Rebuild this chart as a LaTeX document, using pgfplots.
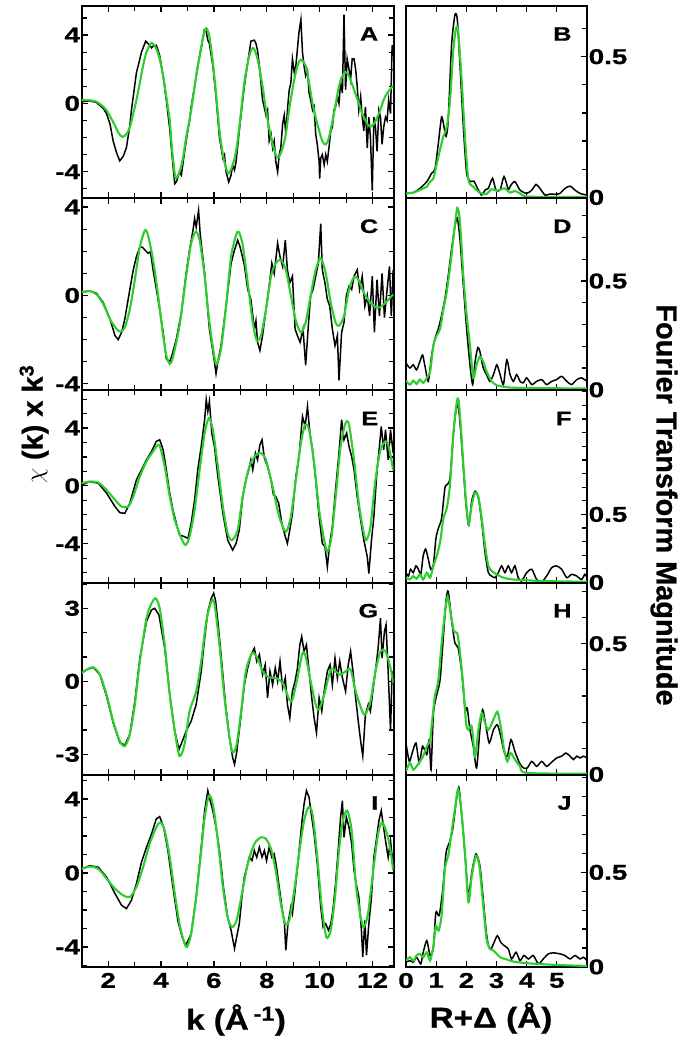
\documentclass[border=0pt]{standalone}
\usepackage{fontspec}
\setmainfont{Liberation Sans}
\newfontfamily\widefont[FakeStretch=1.3, FakeBold=0.8]{Liberation Sans}
\newfontfamily\labwide[FakeStretch=1.15, FakeBold=0.8]{Liberation Sans}
\newfontfamily\labplain[FakeBold=0.8]{Liberation Sans}
\usepackage{pgfplots}
\pgfplotsset{compat=1.18}

\definecolor{fitgreen}{RGB}{45,205,45}
\newcommand\tickfont{\widefont\fontsize{21.5}{21.5}\selectfont\bfseries}
\newcommand\letfont{\widefont\fontsize{19.5}{19.5}\selectfont\bfseries}
\newcommand\labfont{\labplain\fontsize{29}{29}\selectfont\bfseries}
\newcommand\blabfont{\labwide\fontsize{29}{29}\selectfont\bfseries}

\pgfplotsset{
  panel/.style={scale only axis, axis line style={line width=2bp},
    every tick/.style={black, line width=1.2bp},
    major tick length=6bp, minor tick length=5bp, tick align=inside,
    ticklabel style={font=\tickfont, inner sep=1.5bp},
    xticklabel style={yshift=-4bp},
    height=192.25bp, anchor=north west},
  kpanel/.style={panel, width=312bp, xmin=1, xmax=12.8,
    xtick={2,4,...,12}, minor xtick={1,3,...,13}, xticklabels={},
    ytick={-4,0,4}, yticklabels={-4,0,4}},
  rpanel/.style={panel, width=181bp, xmin=0, xmax=6,
    xtick={0,1,...,5}, xticklabels={},
    ytick={0,0.5}, yticklabels={0,0.5},
    minor ytick={0.1,0.2,0.3,0.4,0.6,0.7,0.8,0.9,1.0,1.1,1.2,1.3,1.4},
    ytick pos=right, yticklabel pos=right},
  dat/.style={black, line width=1.5bp},
  fit/.style={fitgreen, line width=2.1bp, smooth, tension=0.45}
}
\tikzset{letter/.style={anchor=east, font=\letfont, xshift=-12bp, yshift=-28bp}}

\begin{document}
\begin{tikzpicture}
\useasboundingbox (0,0) rectangle (685bp,1045bp);

% ---------- A ----------
\begin{axis}[kpanel, at={(81.7bp,1039bp)}, ymin=-5.55, ymax=5.7, minor ytick={-5,...,5}]
\addplot[dat] coordinates {(1.00,0.1) (1.31,0.15) (1.56,0.05) (1.82,-0.3) (1.94,-0.6) (2.07,-1.2) (2.19,-2.2) (2.32,-2.9) (2.44,-3.36) (2.57,-3.1) (2.69,-2.6) (2.82,-1.3) (2.88,-0.4) (2.95,0.4) (3.07,1.8) (3.20,2.6) (3.26,3.0) (3.42,3.64) (3.57,3.4) (3.64,3.25) (3.70,3.35) (3.82,3.4) (3.89,3.1) (3.95,2.8) (4.08,1.6) (4.20,0.2) (4.33,-1.5) (4.39,-2.6) (4.45,-3.6) (4.52,-4.7) (4.58,-4.6) (4.70,-4.0) (4.77,-4.2) (4.83,-3.5) (4.95,-2.2) (5.08,-1.0) (5.14,-0.2) (5.27,1.0) (5.39,2.2) (5.52,3.2) (5.58,3.8) (5.64,4.3) (5.71,4.2) (5.77,3.7) (5.83,3.5) (5.96,2.2) (6.08,0.4) (6.21,-2.0) (6.34,-3.2) (6.40,-3.0) (6.46,-4.0) (6.56,-4.6) (6.65,-4.2) (6.71,-3.6) (6.78,-3.9) (6.84,-3.4) (6.96,-1.6) (7.09,0.2) (7.15,1.0) (7.28,2.4) (7.40,3.64) (7.53,3.7) (7.59,3.5) (7.65,3.1) (7.72,2.2) (7.84,0.2) (7.90,-0.2) (7.97,-0.7) (8.03,-0.4) (8.09,-2.2) (8.16,-1.8) (8.22,-2.6) (8.28,-2.2) (8.34,-3.4) (8.41,-4.0) (8.47,-3.0) (8.53,-2.6) (8.60,-1.2) (8.66,-0.7) (8.72,-1.8) (8.79,-0.2) (8.85,0.8) (8.91,1.2) (8.97,2.6) (9.04,1.8) (9.10,2.2) (9.16,3.2) (9.22,4.2) (9.29,4.9) (9.35,3.0) (9.41,2.2) (9.47,1.6) (9.54,1.9) (9.60,0.6) (9.66,0.2) (9.73,-0.4) (9.79,-0.2) (9.85,-1.8) (9.91,-2.4) (9.98,-3.4) (10.00,-4.4) (10.04,-3.2) (10.10,-3.0) (10.17,-3.6) (10.23,-3.0) (10.29,-3.4) (10.35,-2.6) (10.42,-1.6) (10.48,-1.4) (10.54,-0.4) (10.60,-0.2) (10.67,0.4) (10.73,0.0) (10.79,1.2) (10.86,0.6) (10.92,5.2) (10.98,0.8) (11.04,2.6) (11.11,2.0) (11.17,1.4) (11.23,2.6) (11.30,2.6) (11.36,2.0) (11.42,1.0) (11.48,-0.4) (11.55,0.4) (11.61,-0.8) (11.67,-1.6) (11.73,-0.2) (11.80,-2.6) (11.86,-0.8) (11.92,-2.0) (11.99,-5.1) (12.05,-0.8) (12.11,-1.4) (12.17,-2.8) (12.24,-0.4) (12.30,-0.8) (12.36,-2.4) (12.42,-1.4) (12.49,-0.8) (12.55,-1.0) (12.61,0.2) (12.68,-0.6) (12.74,3.4) (12.78,2.8)};
\addplot[fit] coordinates {(1.00,0.20) (1.31,0.18) (1.56,0.1) (1.82,-0.2) (1.94,-0.4) (2.07,-0.75) (2.26,-1.3) (2.40,-1.75) (2.54,-1.96) (2.69,-1.8) (2.82,-1.4) (2.95,-0.6) (3.07,0.2) (3.20,1.2) (3.32,2.2) (3.45,3.0) (3.64,3.54) (3.82,3.2) (3.95,2.6) (4.08,1.6) (4.20,0.4) (4.33,-1.0) (4.39,-2.2) (4.45,-3.2) (4.55,-4.36) (4.70,-4.0) (4.83,-3.2) (4.95,-2.0) (5.14,-0.4) (5.33,1.6) (5.46,2.8) (5.58,3.8) (5.71,4.4) (5.83,3.9) (5.96,2.4) (6.08,0.6) (6.21,-1.6) (6.34,-3.0) (6.46,-3.8) (6.56,-4.1) (6.71,-3.6) (6.84,-2.8) (6.96,-1.4) (7.15,1.2) (7.34,2.8) (7.49,3.24) (7.65,2.6) (7.84,1.0) (7.97,-0.4) (8.16,-2.0) (8.34,-3.0) (8.45,-3.16) (8.60,-2.6) (8.72,-1.8) (8.85,-0.3) (9.04,1.4) (9.16,2.2) (9.29,2.56) (9.47,2.2) (9.60,1.2) (9.73,0.0) (9.91,-1.2) (10.10,-2.2) (10.23,-2.4) (10.35,-2.0) (10.54,-0.6) (10.73,1.0) (10.86,1.6) (10.98,1.84) (11.11,1.6) (11.30,0.8) (11.48,0.0) (11.61,-0.6) (11.80,-1.2) (11.92,-1.36) (12.05,-1.2) (12.24,-0.6) (12.42,0.2) (12.55,0.6) (12.78,1.04)};
\node[letter] at (rel axis cs:1,1) {A};
\end{axis}

% ---------- B ----------
\begin{axis}[rpanel, at={(406bp,1039bp)}, ymin=-0.003, ymax=0.68]
\addplot[dat, smooth, tension=0.4] coordinates {(0,0.014) (0.24,0.017) (0.46,0.032) (0.69,0.056) (0.85,0.086) (0.96,0.10) (1.07,0.19) (1.18,0.286) (1.26,0.25) (1.33,0.217) (1.40,0.276) (1.51,0.54) (1.62,0.648) (1.70,0.633) (1.79,0.467) (1.90,0.252) (2.01,0.086) (2.14,0.056) (2.25,0.058) (2.40,0.026) (2.51,0.008) (2.62,0.026) (2.73,0.032) (2.87,0.068) (2.98,0.026) (3.12,0.026) (3.25,0.074) (3.39,0.029) (3.48,0.044) (3.61,0.056) (3.78,0.026) (4.00,0.014) (4.17,0.026) (4.31,0.046) (4.44,0.032) (4.61,0.008) (4.77,0.012) (4.94,0.011) (5.10,0.014) (5.27,0.032) (5.44,0.04) (5.60,0.026) (5.77,0.014) (6.0,0.008)};
\addplot[fit] coordinates {(0,0.014) (0.24,0.017) (0.41,0.024) (0.57,0.032) (0.69,0.038) (0.80,0.056) (0.91,0.068) (1.02,0.12) (1.13,0.17) (1.24,0.217) (1.35,0.25) (1.46,0.345) (1.57,0.526) (1.66,0.6) (1.73,0.59) (1.85,0.407) (1.96,0.205) (2.07,0.062) (2.23,0.038) (2.40,0.02) (2.56,0.012) (2.67,0.012) (2.84,0.029) (3.01,0.024) (3.17,0.029) (3.28,0.032) (3.45,0.017) (3.61,0.023) (3.78,0.014) (4.00,0.003) (5.0,0.002) (6.0,0.002)};
\node[letter] at (rel axis cs:1,1) {B};
\end{axis}

% ---------- C ----------
\begin{axis}[kpanel, at={(81.7bp,846.75bp)}, ymin=-4.3, ymax=4.4, minor ytick={-4,...,4}]
\addplot[dat] coordinates {(1.00,0.15) (1.31,0.2) (1.56,0.1) (1.82,-0.33) (2.07,-1.07) (2.26,-1.82) (2.38,-2.0) (2.51,-1.67) (2.63,-1.07) (2.82,0.27) (2.95,1.16) (3.07,1.76) (3.20,2.2) (3.30,2.18) (3.39,2.06) (3.51,1.91) (3.60,1.98) (3.70,1.16) (3.89,-0.18) (4.08,-1.67) (4.20,-2.87) (4.33,-3.0) (4.43,-2.64) (4.58,-1.97) (4.77,-0.78) (4.95,1.0) (5.08,2.06) (5.21,2.96) (5.27,3.48) (5.33,3.1) (5.42,3.85) (5.48,2.8) (5.65,1.0) (5.83,-1.52) (6.02,-3.0) (6.08,-3.54) (6.15,-3.0) (6.27,-2.27) (6.46,-0.48) (6.65,1.46) (6.78,2.06) (6.90,2.5) (6.99,2.2) (7.15,1.39) (7.28,0.27) (7.40,-0.18) (7.53,-1.52) (7.59,-1.15) (7.65,-2.12) (7.74,-2.49) (7.84,-1.82) (7.97,-0.63) (8.09,0.42) (8.19,1.46) (8.28,1.0) (8.41,2.36) (8.50,1.76) (8.60,1.31) (8.70,2.5) (8.78,1.16) (8.87,0.57) (8.97,0.87) (9.07,-1.52) (9.16,-1.82) (9.26,-2.12) (9.37,-1.52) (9.47,-3.16) (9.58,-1.22) (9.66,0) (9.75,0.27) (9.85,0.87) (9.95,1.46) (10.04,3.25) (10.10,1.16) (10.20,0.57) (10.29,-0.18) (10.38,-0.48) (10.48,-1.52) (10.58,-2.27) (10.67,-1.82) (10.73,-3.84) (10.83,-1.67) (10.92,-1.22) (11.01,0) (11.11,0.42) (11.21,0.27) (11.30,0.87) (11.42,1.16) (11.51,0.27) (11.61,0.87) (11.71,-0.48) (11.80,0) (11.89,-0.93) (11.99,0.87) (12.07,-1.67) (12.17,0.72) (12.26,-0.93) (12.36,1.0) (12.45,-1.0) (12.55,0.27) (12.64,1.31) (12.71,-0.93) (12.78,1.16)};
\addplot[fit] coordinates {(1.00,0.15) (1.31,0.2) (1.56,0.05) (1.82,-0.4) (2.07,-1.07) (2.32,-1.52) (2.47,-1.64) (2.63,-1.45) (2.82,-0.63) (3.01,0.72) (3.20,2.2) (3.39,2.95) (3.51,2.73) (3.70,1.6) (3.89,0) (4.08,-1.82) (4.20,-2.72) (4.33,-3.1) (4.45,-2.8) (4.70,-1.37) (4.95,0.87) (5.14,2.36) (5.31,2.88) (5.46,2.5) (5.65,0.87) (5.83,-1.22) (6.02,-2.8) (6.11,-3.1) (6.27,-2.42) (6.46,-0.48) (6.65,1.76) (6.84,2.73) (6.94,2.88) (7.09,2.28) (7.28,0.57) (7.47,-1.22) (7.62,-2.04) (7.78,-1.82) (7.97,-0.63) (8.16,0.87) (8.34,1.46) (8.53,1.61) (8.72,1.16) (8.91,0) (9.10,-1.15) (9.29,-1.67) (9.47,-1.22) (9.66,0) (9.85,1.16) (10.04,1.69) (10.23,1.0) (10.42,-0.33) (10.60,-1.22) (10.73,-1.37) (10.92,-0.93) (11.11,0.27) (11.30,0.84) (11.46,0.72) (11.67,0.12) (11.92,-0.33) (12.17,-0.55) (12.36,-0.48) (12.55,-0.25) (12.78,0.05)};
\node[letter] at (rel axis cs:1,1) {C};
\end{axis}

% ---------- D ----------
\begin{axis}[rpanel, at={(406bp,846.75bp)}, ymin=-0.003, ymax=0.88]
\addplot[dat, smooth, tension=0.4] coordinates {(0,0.123) (0.13,0.1) (0.24,0.115) (0.35,0.092) (0.46,0.13) (0.55,0.16) (0.63,0.108) (0.74,0.039) (0.85,0.16) (0.96,0.236) (1.07,0.28) (1.18,0.342) (1.29,0.418) (1.40,0.524) (1.51,0.645) (1.62,0.75) (1.70,0.79) (1.79,0.69) (1.90,0.48) (2.01,0.28) (2.12,0.115) (2.21,0.024) (2.29,0.13) (2.38,0.194) (2.45,0.176) (2.56,0.1) (2.67,0.07) (2.78,0.039) (2.90,0.07) (3.01,0.115) (3.12,0.07) (3.23,0.024) (3.34,0.138) (3.45,0.07) (3.56,0.039) (3.67,0.07) (3.78,0.039) (3.89,0.032) (4.00,0.055) (4.17,0.024) (4.33,0.039) (4.50,0.047) (4.66,0.024) (4.83,0.039) (4.99,0.047) (5.16,0.062) (5.33,0.039) (5.49,0.024) (5.66,0.047) (5.82,0.055) (6.0,0.039)};
\addplot[fit] coordinates {(0,0.042) (0.13,0.024) (0.24,0.042) (0.35,0.027) (0.46,0.047) (0.57,0.032) (0.69,0.055) (0.80,0.085) (0.91,0.206) (1.02,0.25) (1.13,0.28) (1.24,0.37) (1.35,0.45) (1.48,0.585) (1.59,0.72) (1.70,0.835) (1.79,0.767) (1.90,0.524) (2.01,0.342) (2.12,0.206) (2.23,0.055) (2.34,0.115) (2.45,0.153) (2.56,0.13) (2.67,0.085) (2.84,0.039) (3.01,0.021) (3.34,0.012) (3.78,0.009) (6.0,0.006)};
\node[letter] at (rel axis cs:1,1) {D};
\end{axis}

% ---------- E ----------
\begin{axis}[kpanel, at={(81.7bp,654.5bp)}, ymin=-6.7, ymax=6.6, minor ytick={-6,...,6}]
\addplot[dat] coordinates {(1.00,0.07) (1.31,0.3) (1.63,0.18) (1.94,-0.5) (2.26,-1.43) (2.44,-1.85) (2.63,-1.9) (2.82,-1.2) (3.07,0.42) (3.26,1.11) (3.45,1.8) (3.64,2.38) (3.82,3.08) (3.95,3.19) (4.08,2.5) (4.20,1.11) (4.33,-0.5) (4.45,-1.66) (4.58,-2.59) (4.70,-3.4) (4.89,-3.51) (5.02,-3.63) (5.14,-2.59) (5.27,-0.97) (5.39,1.11) (5.52,2.73) (5.65,4.58) (5.71,5.97) (5.77,5.16) (5.83,5.85) (5.92,3.65) (6.02,2.73) (6.15,0.65) (6.34,-1.9) (6.52,-3.75) (6.71,-4.44) (6.84,-3.98) (6.96,-3.05) (7.09,-0.74) (7.21,0.42) (7.32,1.11) (7.40,1.8) (7.47,1.11) (7.57,2.27) (7.65,1.8) (7.74,2.84) (7.82,3.19) (7.91,1.92) (8.03,1.34) (8.16,0.42) (8.25,-0.62) (8.34,-0.74) (8.45,-1.2) (8.57,-2.59) (8.70,-3.51) (8.78,-3.98) (8.87,-3.05) (8.97,-1.9) (9.10,0.65) (9.22,2.03) (9.35,4.81) (9.45,4.12) (9.54,5.5) (9.63,3.65) (9.73,2.5) (9.85,0.42) (9.98,-2.13) (10.10,-3.98) (10.20,-4.21) (10.29,-5.6) (10.38,-3.98) (10.48,-2.82) (10.60,-0.28) (10.73,2.27) (10.83,4.58) (10.92,3.19) (11.02,3.65) (11.11,2.73) (11.21,2.03) (11.30,1.11) (11.42,-0.74) (11.55,-2.36) (11.67,-3.75) (11.80,-4.9) (11.86,-6.06) (11.96,-3.75) (12.05,-2.13) (12.17,1.11) (12.26,2.73) (12.33,4.12) (12.42,2.5) (12.49,3.88) (12.59,1.8) (12.68,3.88) (12.78,2.27)};
\addplot[fit] coordinates {(1.00,0.18) (1.31,0.3) (1.63,0.23) (1.94,-0.28) (2.26,-0.97) (2.51,-1.43) (2.76,-1.43) (2.95,-0.74) (3.20,0.65) (3.45,1.69) (3.70,2.38) (3.93,2.84) (4.14,1.34) (4.33,-0.74) (4.52,-2.36) (4.77,-3.63) (4.93,-4.09) (5.08,-3.51) (5.27,-1.66) (5.46,1.11) (5.65,3.65) (5.81,4.69) (5.96,3.88) (6.15,1.34) (6.34,-1.43) (6.52,-3.28) (6.68,-3.75) (6.90,-3.05) (7.09,-0.74) (7.34,1.34) (7.59,2.15) (7.78,2.27) (7.97,1.8) (8.22,-0.05) (8.47,-2.13) (8.72,-3.17) (8.91,-2.13) (9.10,0.42) (9.29,2.96) (9.45,4.23) (9.60,3.88) (9.79,1.57) (9.98,-1.66) (10.17,-3.75) (10.29,-4.55) (10.45,-3.51) (10.63,-0.28) (10.79,2.73) (10.98,4.35) (11.11,4.23) (11.30,1.8) (11.48,-1.2) (11.67,-3.28) (11.77,-3.75) (11.92,-2.82) (12.11,0.42) (12.30,2.5) (12.49,3.08) (12.61,2.73) (12.78,1.11)};
\node[letter] at (rel axis cs:1,1) {E};
\end{axis}

% ---------- F ----------
\begin{axis}[rpanel, at={(406bp,654.5bp)}, ymin=-0.002, ymax=1.41]
\addplot[dat, smooth, tension=0.4] coordinates {(0,0.072) (0.08,0.047) (0.15,0.097) (0.24,0.072) (0.33,0.122) (0.41,0.097) (0.49,0.06) (0.57,0.196) (0.65,0.246) (0.74,0.171) (0.82,0.097) (0.91,0.134) (0.99,0.321) (1.07,0.396) (1.18,0.47) (1.29,0.694) (1.37,0.72) (1.46,0.77) (1.57,1.09) (1.66,1.27) (1.73,1.30) (1.81,1.12) (1.90,0.84) (1.99,0.57) (2.08,0.42) (2.18,0.6) (2.29,0.67) (2.40,0.62) (2.51,0.445) (2.62,0.22) (2.73,0.072) (2.84,0.047) (2.95,0.035) (3.06,0.072) (3.17,0.122) (3.28,0.072) (3.39,0.122) (3.50,0.072) (3.61,0.122) (3.72,0.035) (3.83,0.01) (4.00,0.072) (4.17,0.097) (4.33,0.022) (4.50,0.005) (4.66,0.047) (4.83,0.109) (4.99,0.122) (5.16,0.097) (5.33,0.035) (5.49,0.06) (5.66,0.047) (5.82,0.022) (5.93,0.06) (6.0,0.035)};
\addplot[fit] coordinates {(0,0.035) (0.13,0.022) (0.24,0.047) (0.35,0.027) (0.46,0.06) (0.57,0.022) (0.69,0.072) (0.80,0.035) (0.91,0.122) (1.02,0.196) (1.13,0.296) (1.24,0.47) (1.35,0.545) (1.46,0.72) (1.57,1.09) (1.66,1.29) (1.73,1.35) (1.81,1.17) (1.90,0.87) (1.99,0.6) (2.08,0.43) (2.18,0.57) (2.29,0.66) (2.40,0.63) (2.51,0.47) (2.62,0.27) (2.73,0.122) (2.84,0.085) (2.95,0.067) (3.23,0.035) (3.56,0.022) (4.11,0.015) (4.66,0.01) (6.0,0.005)};
\node[letter] at (rel axis cs:1,1) {F};
\end{axis}

% ---------- G ----------
\begin{axis}[kpanel, at={(81.7bp,462.25bp)}, ymin=-3.85, ymax=4.05, ytick={-3,0,3}, yticklabels={-3,0,3}, minor ytick={-3,...,4}]
\addplot[dat] coordinates {(1.00,0.34) (1.19,0.48) (1.44,0.57) (1.69,0.27) (1.94,-0.61) (2.19,-1.7) (2.44,-2.52) (2.63,-2.62) (2.82,-2.18) (3.01,-0.82) (3.20,0.95) (3.45,2.46) (3.64,2.93) (3.76,3.0) (3.92,2.73) (4.14,1.36) (4.33,-0.55) (4.52,-2.05) (4.68,-2.8) (4.83,-2.39) (4.95,-2.05) (5.14,-1.64) (5.33,-0.95) (5.52,0.41) (5.65,1.77) (5.77,2.86) (5.90,3.41) (5.99,3.62) (6.06,3.34) (6.15,2.46) (6.27,1.09) (6.44,-0.95) (6.59,-2.32) (6.71,-3.14) (6.78,-3.41) (6.86,-2.93) (7.03,-1.36) (7.15,-0.14) (7.28,0.55) (7.40,1.09) (7.53,1.36) (7.62,0.82) (7.72,1.09) (7.84,0.27) (7.94,0.68) (8.03,-0.68) (8.12,0.41) (8.22,-0.14) (8.32,0.55) (8.41,0) (8.50,0.82) (8.60,-0.27) (8.70,0.14) (8.78,-0.95) (8.87,-1.5) (8.97,-0.41) (9.07,0) (9.16,0.55) (9.25,1.5) (9.32,1.84) (9.41,1.23) (9.50,1.5) (9.60,0.41) (9.70,-0.68) (9.79,-1.5) (9.88,-2.11) (9.98,-0.68) (10.08,-1.23) (10.17,-0.41) (10.29,0.41) (10.39,0.68) (10.48,-0.14) (10.58,0.95) (10.67,0.14) (10.76,0.82) (10.86,0.14) (10.98,-0.41) (11.08,0.68) (11.17,1.23) (11.26,0.41) (11.36,-0.68) (11.46,-1.64) (11.55,-2.46) (11.63,-3.07) (11.73,-1.36) (11.84,-0.95) (11.92,-1.23) (12.01,-0.41) (12.11,0.41) (12.21,1.36) (12.30,2.59) (12.36,0.95) (12.45,2.05) (12.51,2.32) (12.59,0.41) (12.68,-2.05) (12.74,0.41) (12.78,0)};
\addplot[fit] coordinates {(1.00,0.34) (1.19,0.48) (1.44,0.57) (1.69,0.27) (1.94,-0.55) (2.19,-1.64) (2.44,-2.46) (2.63,-2.66) (2.82,-2.18) (3.01,-0.95) (3.20,0.82) (3.45,2.59) (3.64,3.2) (3.80,3.41) (3.95,3.0) (4.14,1.5) (4.33,-0.55) (4.52,-2.05) (4.70,-3.07) (4.89,-2.59) (5.08,-1.23) (5.33,-0.41) (5.52,0.82) (5.71,2.46) (5.90,3.27) (6.02,3.2) (6.21,1.5) (6.40,-0.68) (6.59,-2.32) (6.71,-2.93) (6.86,-2.59) (7.03,-1.23) (7.21,0.41) (7.44,1.16) (7.65,0.95) (7.84,0.41) (8.09,0.16) (8.34,0.14) (8.60,-0.07) (8.85,-0.75) (8.97,-0.75) (9.16,0.14) (9.35,1.16) (9.47,1.02) (9.66,0) (9.85,-0.95) (9.98,-1.16) (10.17,-0.55) (10.42,0.48) (10.60,0.41) (10.79,0.27) (10.98,0.41) (11.17,0.48) (11.36,-0.41) (11.61,-1.23) (11.73,-1.36) (11.92,-0.82) (12.11,0.41) (12.30,1.23) (12.49,1.23) (12.68,0.55) (12.78,-0.07)};
\node[letter] at (rel axis cs:1,1) {G};
\end{axis}

% ---------- H ----------
\begin{axis}[rpanel, at={(406bp,462.25bp)}, ymin=-0.002, ymax=0.733]
\addplot[dat, smooth, tension=0.4] coordinates {(0,0.12) (0.11,0.05) (0.22,0.088) (0.33,0.12) (0.44,0.044) (0.55,0.108) (0.69,0.076) (0.77,0.133) (0.83,0.018) (0.91,0.235) (1.02,0.305) (1.13,0.362) (1.24,0.528) (1.33,0.668) (1.40,0.70) (1.51,0.592) (1.62,0.503) (1.73,0.483) (1.85,0.388) (1.96,0.248) (2.03,0.254) (2.12,0.171) (2.23,0.108) (2.34,0.025) (2.45,0.171) (2.54,0.248) (2.65,0.184) (2.76,0.12) (2.90,0.171) (3.03,0.19) (3.14,0.146) (3.25,0.088) (3.36,0.07) (3.48,0.133) (3.61,0.088) (3.76,0.044) (3.89,0.025) (4.02,0.025) (4.17,0.05) (4.33,0.031) (4.50,0.05) (4.66,0.031) (4.83,0.047) (4.99,0.063) (5.16,0.07) (5.30,0.082) (5.44,0.07) (5.55,0.057) (5.66,0.07) (5.77,0.063) (5.88,0.07) (6.0,0.063)};
\addplot[fit] coordinates {(0,0.012) (0.13,0.044) (0.24,0.018) (0.35,0.031) (0.46,0.05) (0.57,0.07) (0.69,0.108) (0.80,0.133) (0.88,0.22) (0.96,0.3) (1.07,0.36) (1.18,0.5) (1.29,0.617) (1.38,0.68) (1.48,0.617) (1.59,0.547) (1.70,0.54) (1.79,0.464) (1.90,0.337) (1.99,0.197) (2.07,0.171) (2.18,0.184) (2.29,0.07) (2.40,0.171) (2.51,0.235) (2.62,0.197) (2.73,0.171) (2.90,0.21) (3.03,0.24) (3.14,0.184) (3.25,0.095) (3.36,0.05) (3.47,0.082) (3.61,0.057) (3.78,0.031) (4.00,0.006) (6.0,0.003)};
\node[letter] at (rel axis cs:1,1) {H};
\end{axis}

% ---------- I ----------
\begin{axis}[kpanel, at={(81.7bp,270bp)}, ymin=-5.1, ymax=5.3, minor ytick={-5,...,5},
  xticklabels={2,4,6,8,10,12}]
\addplot[dat] coordinates {(1.00,0.22) (1.31,0.4) (1.63,0.31) (1.94,-0.22) (2.26,-1.12) (2.51,-1.75) (2.69,-1.93) (2.88,-1.48) (3.07,-0.58) (3.26,0.58) (3.45,1.39) (3.64,2.11) (3.82,2.92) (3.95,3.05) (4.10,2.47) (4.26,1.21) (4.45,-0.76) (4.64,-2.61) (4.80,-3.47) (4.93,-3.91) (5.03,-3.64) (5.14,-3.29) (5.33,-1.3) (5.52,1.39) (5.65,3.37) (5.77,4.45) (5.86,3.91) (5.96,3.37) (6.08,2.47) (6.21,1.21) (6.36,-0.76) (6.52,-2.39) (6.65,-3.1) (6.78,-4.09) (6.86,-3.47) (6.96,-2.75) (7.06,-1.3) (7.15,-0.22) (7.25,0.31) (7.34,0.85) (7.44,0.67) (7.53,1.21) (7.62,0.85) (7.72,1.39) (7.82,0.85) (7.91,1.21) (7.99,0.67) (8.09,1.39) (8.19,0.85) (8.28,1.03) (8.37,0.31) (8.47,-0.76) (8.57,-1.84) (8.67,-2.75) (8.72,-4.18) (8.80,-2.75) (8.91,-1.84) (8.97,-2.2) (9.07,-0.94) (9.20,0.85) (9.32,2.65) (9.41,3.73) (9.50,4.45) (9.60,4.09) (9.70,3.01) (9.79,2.11) (9.91,0.49) (10.04,-1.84) (10.13,-2.93) (10.23,-2.75) (10.33,-3.1) (10.42,-2.75) (10.50,-2.03) (10.60,-0.58) (10.70,1.21) (10.79,3.01) (10.86,3.91) (10.92,1.93) (11.01,3.01) (11.11,2.47) (11.21,1.57) (11.30,0.13) (11.38,-0.58) (11.48,-1.3) (11.58,-3.1) (11.63,-4.54) (11.71,-2.56) (11.77,-4.45) (11.86,-2.75) (11.96,-1.3) (12.05,0.85) (12.14,1.75) (12.24,2.83) (12.33,3.37) (12.40,2.65) (12.49,1.75) (12.59,0.85) (12.68,1.75) (12.78,0.31)};
\addplot[fit] coordinates {(1.00,0.22) (1.31,0.35) (1.63,0.22) (1.94,-0.31) (2.26,-0.85) (2.57,-1.21) (2.82,-1.3) (3.07,-0.76) (3.32,0.31) (3.57,1.57) (3.82,2.47) (3.98,2.74) (4.14,2.29) (4.33,0.85) (4.52,-1.12) (4.70,-2.75) (4.85,-3.64) (4.98,-4.01) (5.14,-3.29) (5.33,-1.3) (5.52,1.21) (5.65,3.0) (5.81,4.18) (5.96,3.73) (6.15,1.75) (6.34,-0.76) (6.52,-2.39) (6.68,-2.93) (6.86,-2.56) (7.06,-1.12) (7.28,0.49) (7.53,1.57) (7.78,1.93) (7.97,1.84) (8.16,1.3) (8.34,0.13) (8.53,-1.66) (8.70,-2.75) (8.85,-2.56) (9.04,-0.94) (9.22,1.03) (9.41,2.83) (9.58,3.55) (9.73,3.19) (9.91,0.85) (10.08,-1.84) (10.25,-3.47) (10.42,-3.1) (10.58,-1.3) (10.73,1.21) (10.88,2.83) (11.04,3.37) (11.21,2.29) (11.38,-0.76) (11.55,-2.39) (11.67,-2.93) (11.83,-2.2) (12.01,-0.04) (12.21,2.11) (12.36,2.74) (12.55,2.11) (12.68,1.21) (12.78,0.13)};
\node[letter] at (rel axis cs:1,1) {I};
\end{axis}

% ---------- J ----------
\begin{axis}[rpanel, at={(406bp,270bp)}, ymin=-0.002, ymax=1.015,
  xticklabels={0,1,2,3,4,5}]
\addplot[dat, smooth, tension=0.4] coordinates {(0,0.025) (0.13,0.033) (0.24,0.025) (0.35,0.051) (0.49,0.016) (0.57,0.077) (0.69,0.139) (0.80,0.06) (0.91,0.104) (0.99,0.289) (1.10,0.271) (1.22,0.412) (1.33,0.606) (1.44,0.658) (1.55,0.729) (1.66,0.87) (1.75,0.95) (1.83,0.835) (1.96,0.588) (2.07,0.377) (2.18,0.5) (2.32,0.597) (2.45,0.535) (2.56,0.359) (2.65,0.2) (2.73,0.113) (2.82,0.095) (2.92,0.13) (3.03,0.165) (3.14,0.13) (3.25,0.113) (3.39,0.095) (3.50,0.042) (3.65,0.077) (3.78,0.033) (3.91,0.06) (4.06,0.042) (4.22,0.06) (4.39,0.016) (4.55,0.042) (4.72,0.069) (4.88,0.074) (5.10,0.069) (5.27,0.06) (5.44,0.042) (5.60,0.06) (5.77,0.042) (5.88,0.051) (6.0,0.033)};
\addplot[fit] coordinates {(0,0.033) (0.13,0.051) (0.24,0.033) (0.35,0.06) (0.46,0.069) (0.57,0.051) (0.69,0.077) (0.80,0.033) (0.91,0.113) (0.99,0.218) (1.08,0.192) (1.18,0.271) (1.29,0.518) (1.40,0.588) (1.51,0.711) (1.62,0.835) (1.73,0.94) (1.85,0.8) (1.96,0.588) (2.07,0.342) (2.18,0.482) (2.32,0.588) (2.43,0.535) (2.56,0.324) (2.67,0.148) (2.78,0.095) (2.90,0.086) (3.12,0.051) (3.34,0.039) (3.56,0.028) (3.89,0.021) (4.33,0.016) (4.88,0.011) (5.55,0.007) (6.0,0.005)};
\node[letter] at (rel axis cs:1,1) {J};
\end{axis}

% axis titles
\node[rotate=90, font=\labfont] at (34bp,621bp) {$\chi$ (k) x k\textsuperscript{3}};
\node[rotate=-90, font=\labfont] at (664bp,540bp) {Fourier Transform Magnitude};
\node[font=\blabfont] at (236bp,25bp) {k (Å\,\textsuperscript{-1})};
\node[font=\blabfont] at (491bp,27bp) {R+Δ (Å)};
\end{tikzpicture}
\end{document}
